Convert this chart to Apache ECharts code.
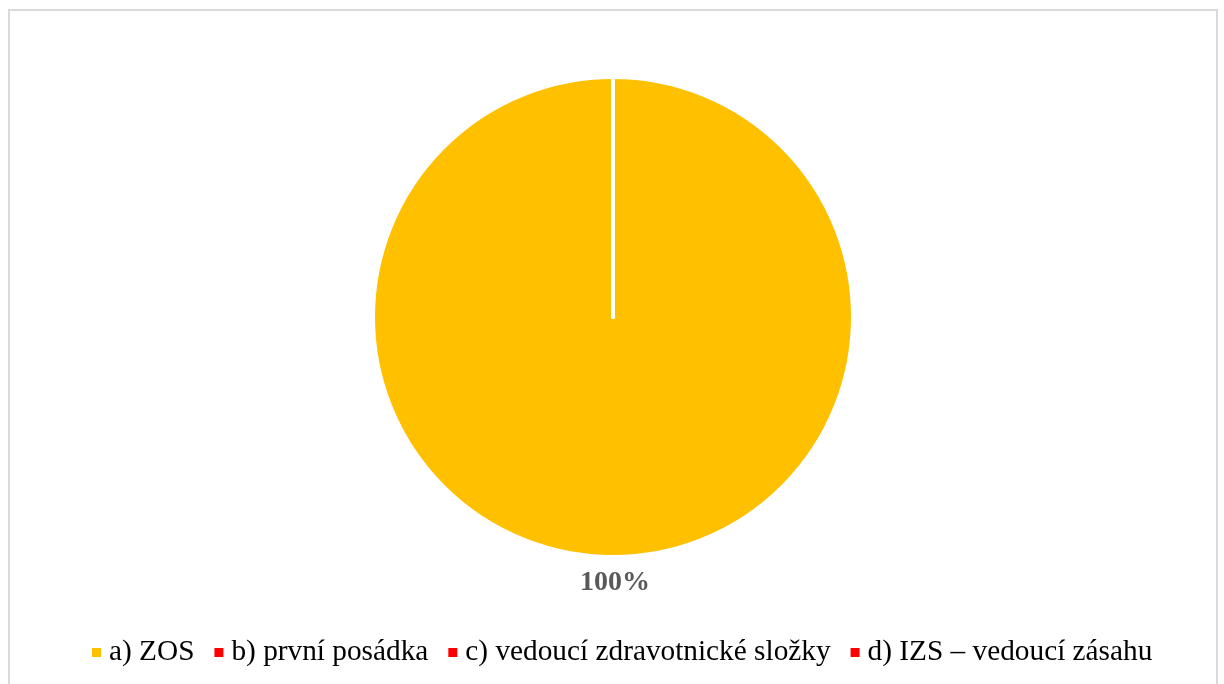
<!DOCTYPE html>
<html>
<head>
<meta charset="utf-8">
<title>Pie</title>
<script src="https://cdn.jsdelivr.net/npm/echarts@6/dist/echarts.min.js"></script>
<style>
  html, body { margin: 0; padding: 0; background: #ffffff; }
  #frame {
    position: absolute; left: 8px; top: 9px; width: 1206px; height: 690px;
    border: 2px solid #d9d9d9; box-sizing: content-box;
  }
  #chart { position: absolute; left: 0; top: 0; width: 1224px; height: 684px; }
</style>
</head>
<body>
<div id="frame"></div>
<div id="chart"></div>
<script>
// Responses per option (share of answers)
const categories = ['a) ZOS', 'b) první posádka', 'c) vedoucí zdravotnické složky', 'd) IZS – vedoucí zásahu'];
const values = [100, 0, 0, 0];
const colors = ['#FFC000', '#FF0000', '#FF0000', '#FF0000'];

const chart = echarts.init(document.getElementById('chart'), null, { renderer: 'canvas' });

const pieData = categories.map((name, i) => ({
  name: name,
  value: values[i],
  itemStyle: { color: colors[i] },
  label: { show: values[i] > 0 }
}));

chart.setOption({
  animation: false,
  backgroundColor: 'transparent',
  legend: {
    data: categories,
    left: 87,
    top: 633,
    icon: 'rect',
    itemWidth: 9,
    itemHeight: 9,
    itemGap: 20,
    itemStyle: { borderWidth: 0 },
    textStyle: {
      fontFamily: '"Liberation Serif", "Times New Roman", serif',
      fontSize: 29.3,
      color: '#000000',
      padding: [0, 0, 0, 3]
    }
  },
  series: [{
    type: 'pie',
    center: [613, 317],
    radius: [0, 240],
    startAngle: 90,
    clockwise: true,
    stillShowZeroSum: true,
    itemStyle: { borderColor: '#ffffff', borderWidth: 4 },
    label: {
      position: 'outside',
      formatter: p => Math.round(p.percent) + '%',
      fontFamily: '"Liberation Serif", "Times New Roman", serif',
      fontWeight: 'bold',
      fontSize: 28,
      color: '#595959'
    },
    labelLine: { show: false },
    labelLayout: function (p) {
      return {
        x: p.rect.x + p.rect.width / 2 + 2,
        y: p.rect.y + p.rect.height + 24,
        align: 'center',
        verticalAlign: 'middle'
      };
    },
    emphasis: { disabled: true },
    data: pieData
  }]
});
</script>
</body>
</html>
